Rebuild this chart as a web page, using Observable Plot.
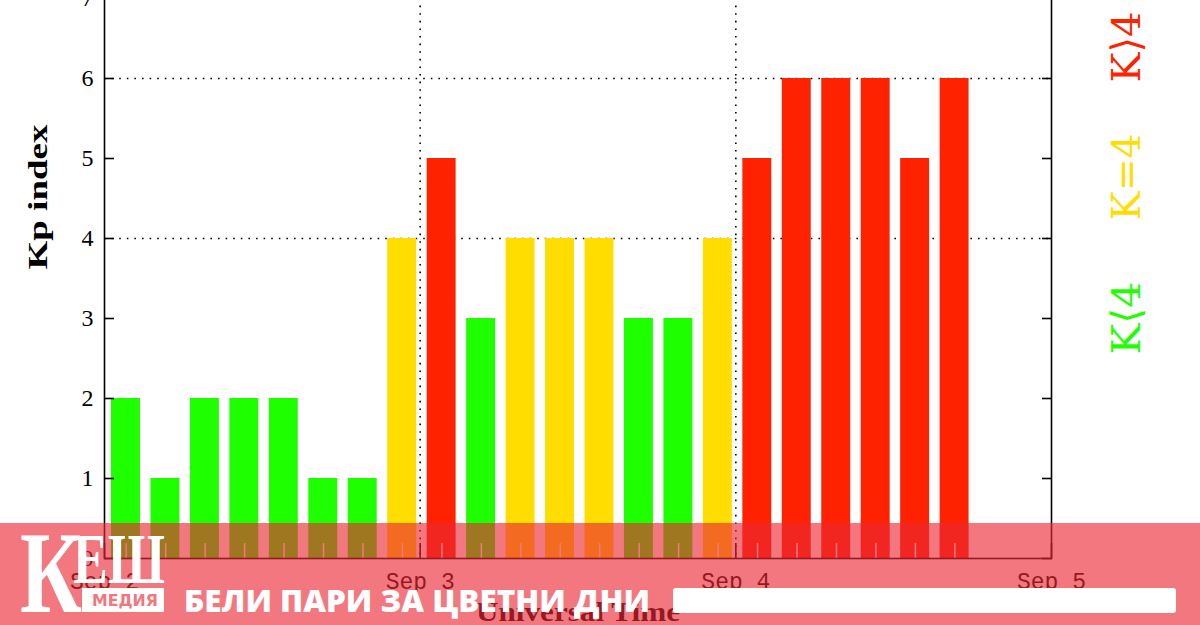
<!DOCTYPE html>
<html><head><meta charset="utf-8">
<script src="https://cdn.jsdelivr.net/npm/d3@7"></script>
<script src="https://cdn.jsdelivr.net/npm/@observablehq/plot@0.6"></script>
<style>
html,body{margin:0;padding:0;background:#fff;}
#wrap{position:relative;width:1200px;height:625px;overflow:hidden;background:#fff}
#wrap > *{position:absolute;left:0;top:0}
</style></head><body><div id="wrap"></div>
<script>
// ---- data ----
const kpValues = [2,1,2,2,2,1,1,4, 5,3,4,4,4,3,3,4, 5,6,6,6,5,6];
const startDate = "2023-09-02";
const dayTicks = ["2023-09-02","2023-09-03","2023-09-04","2023-09-05"];
const gridXDays = ["2023-09-03","2023-09-04"];
const yTicks = [0,1,2,3,4,5,6,7];
const gridYValues = [4,6];
const levelColors = ["#1eff00","#ffdd00","#ff2200"];
const legendLabels = ["K⟨4","K=4","K⟩4"];
const yLabel = "Kp index";
const xLabel = "Universal Time";
const brandBig = "К";
const brandSmall = "ЕШ";
const brandSub = "МЕДИЯ";
const slogan = "БЕЛИ ПАРИ ЗА ЦВЕТНИ ДНИ";

const H = 3600e3;
const t0 = new Date(startDate + "T00:00Z");
const data = kpValues.map((kp,i)=>({
  start: new Date(+t0 + i*3*H),
  end: new Date(+t0 + (i+1)*3*H),
  mid: new Date(+t0 + (i*3+1.5)*H),
  kp,
  level: kp < 4 ? 0 : kp === 4 ? 1 : 2
}));
const days = dayTicks.map(d=>new Date(d+"T00:00Z"));
const gridDays = gridXDays.map(d=>new Date(d+"T00:00Z"));

const dots = {stroke:"black", strokeOpacity:1, strokeWidth:1.6, strokeDasharray:"1.6,6"};
const chart = Plot.plot({
  width:1200, height:625,
  marginLeft:104, marginRight:149, marginTop:-2, marginBottom:67,
  x:{type:"utc", domain:[days[0], days[days.length-1]], label:null},
  y:{domain:[0,7], label:null},
  style:{fontFamily:"Liberation Serif", fontSize:"24px", background:"transparent", color:"black", overflow:"visible"},
  marks:[
    Plot.gridY(gridYValues, dots),
    Plot.gridX(gridDays, dots),
    Plot.rectY(data, {x1:"start", x2:"end", y:"kp", fill:d=>levelColors[d.level], insetLeft:7, insetRight:3.5}),
    Plot.axisX(data.map(d=>d.mid), {tickSize:-15, stroke:"white", strokeWidth:1.5, fill:"none", dx:2}),
    Plot.frame({stroke:"black", strokeWidth:1.6}),
    Plot.axisX(days, {tickSize:-15, strokeWidth:1.6, fill:"none"}),
    Plot.axisX(days, {tickSize:0, tickPadding:14, tickFormat:d3.utcFormat("%b %-d"), fontFamily:"Liberation Mono", fontSize:23, fontWeight:300}),
    Plot.axisY(yTicks, {tickSize:-10, strokeWidth:1.6, fill:"none"}),
    Plot.axisY(yTicks, {anchor:"right", tickSize:-10, strokeWidth:1.6, fill:"none"}),
    Plot.axisY(yTicks, {tickSize:0, tickPadding:11, tickFormat:d3.format("d")})
  ]
});
const wrap = document.getElementById("wrap");
wrap.appendChild(chart);

const NS = "http://www.w3.org/2000/svg";
function svgEl(tag, attrs, txt){
  const e = document.createElementNS(NS, tag);
  for (const k in attrs) e.setAttribute(k, attrs[k]);
  if (txt != null) e.textContent = txt;
  return e;
}
// labels and legend
const lab = svgEl("svg", {width:1200, height:625});
lab.appendChild(svgEl("text", {transform:"translate(47,197) rotate(-90)", "text-anchor":"middle", "font-family":"Liberation Serif", "font-weight":"bold", "font-size":28, textLength:145, lengthAdjust:"spacingAndGlyphs"}, yLabel));
lab.appendChild(svgEl("text", {x:578, y:621, "text-anchor":"middle", "font-family":"Liberation Serif", "font-weight":"bold", "font-size":27, textLength:204, lengthAdjust:"spacingAndGlyphs"}, xLabel));
const legendCenters = [318, 177, 47];
const legendLengths = [73, 87, 71];
legendLabels.forEach((t,i)=>{
  lab.appendChild(svgEl("text", {transform:`translate(1140,${legendCenters[i]}) rotate(-90)`, "text-anchor":"middle", "font-family":"DejaVu Serif", "font-size":40, fill:levelColors[i], textLength:legendLengths[i], lengthAdjust:"spacingAndGlyphs"}, t));
});
wrap.appendChild(lab);

// banner overlay
const ban = document.createElement("div");
ban.style.cssText = "position:absolute;left:0;top:523px;width:1200px;height:102px;background:rgba(234,40,50,0.63)";
wrap.appendChild(ban);
const bs = svgEl("svg", {width:1200, height:625});
bs.appendChild(svgEl("text", {x:20, y:612, "font-family":"Liberation Serif", "font-weight":"bold", "font-size":116, fill:"white", textLength:62, lengthAdjust:"spacingAndGlyphs"}, brandBig));
bs.appendChild(svgEl("text", {x:73, y:583, "font-family":"Liberation Serif", "font-weight":"bold", "font-size":72, fill:"white", textLength:92, lengthAdjust:"spacingAndGlyphs"}, brandSmall));
bs.appendChild(svgEl("rect", {x:82, y:588, width:82, height:24, fill:"white"}));
bs.appendChild(svgEl("text", {x:92, y:606, "font-family":"DejaVu Sans", "font-weight":"bold", "font-size":16, fill:"#f2777c", textLength:66, lengthAdjust:"spacingAndGlyphs"}, brandSub));
bs.appendChild(svgEl("text", {x:184, y:612, "font-family":"Open Sans", "font-weight":"800", "font-size":30, fill:"white", textLength:466, lengthAdjust:"spacingAndGlyphs"}, slogan));
bs.appendChild(svgEl("rect", {x:673, y:588, width:503, height:25, rx:3, fill:"white"}));
wrap.appendChild(bs);
</script></body></html>
